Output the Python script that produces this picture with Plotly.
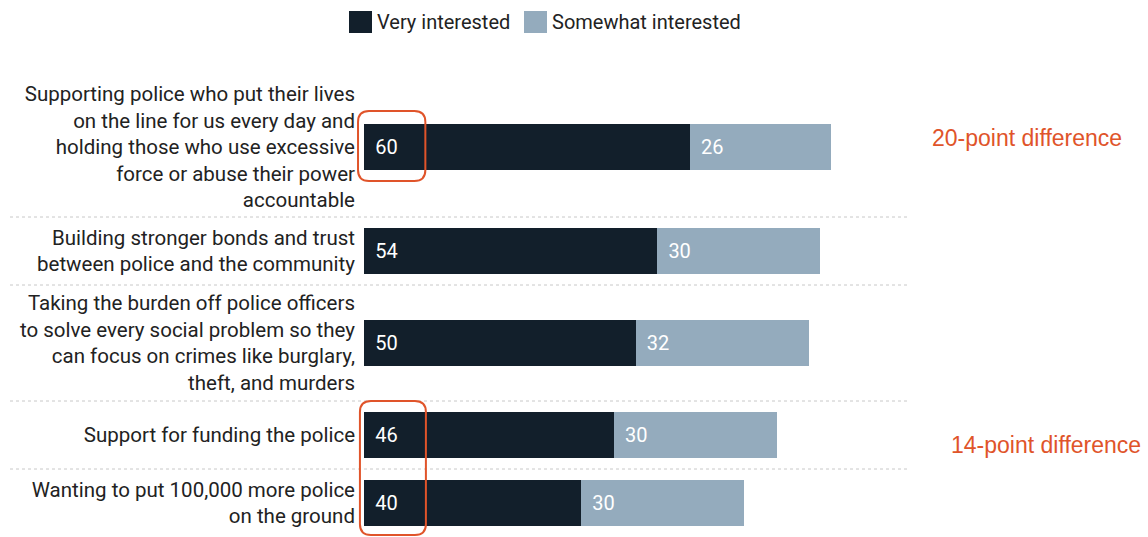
import plotly.graph_objects as go

# ---------------- data ----------------
categories = [
    "Supporting police who put their lives<br>on the line for us every day and<br>holding those who use excessive<br>force or abuse their power<br>accountable",
    "Building stronger bonds and trust<br>between police and the community",
    "Taking the burden off police officers<br>to solve every social problem so they<br>can focus on crimes like burglary,<br>theft, and murders",
    "Support for funding the police",
    "Wanting to put 100,000 more police<br>on the ground",
]
very_interested = [60, 54, 50, 46, 40]
somewhat_interested = [26, 30, 32, 30, 30]
series_names = ["Very interested", "Somewhat interested"]
callout_texts = ["20-point difference", "14-point difference"]

# ---------------- layout constants ----------------
W, H = 1148, 537
L, T = 364, 77
PX_PER_UNIT = 5.43
plot_w = W - L
plot_h = H - T
xmax = plot_w / PX_PER_UNIT

DARK = "#121f2b"
LIGHT = "#94abbd"
ORANGE = "#e0542a"
TEXT = "#222222"
FONT = "Roboto"
FS = 20
BAR_W = 46

# slot heights derived from label line counts (1 y-unit = 1 px)
line_px = 24
slots = [line_px * max(c.count("<br>") + 1, 2) + 20 for c in categories]
edges = [0]
for s in slots:
    edges.append(edges[-1] + s)
centers = [(edges[i] + edges[i + 1]) / 2 for i in range(len(slots))]
ytotal = edges[-1]


def px_x(px):
    return (px - L) / plot_w


def px_y(px):
    return 1 - (px - T) / plot_h


def data_x(v):
    return v / xmax


fig = go.Figure()
for vals, name, col in [(very_interested, series_names[0], DARK),
                        (somewhat_interested, series_names[1], LIGHT)]:
    fig.add_trace(go.Bar(
        orientation="h", y=centers, x=vals, width=BAR_W,
        name=name, marker=dict(color=col, line=dict(width=0)),
        text=vals, texttemplate="\u2009\u2009%{x}",
        textposition="inside", insidetextanchor="start",
        textfont=dict(color="white", size=FS, family=FONT),
        showlegend=False,
    ))

shapes = []
# dotted separators
for e in edges[1:-1]:
    shapes.append(dict(type="line", xref="paper", yref="y",
                       x0=px_x(10), x1=px_x(908), y0=e, y1=e,
                       line=dict(color="#c8c8c8", width=1, dash="dot")))


def rounded_box(x0, x1, y0, y1, r_px=11):
    rx = r_px / plot_w
    ry = r_px
    return (f"M {x0+rx},{y0} L {x1-rx},{y0} Q {x1},{y0} {x1},{y0+ry} "
            f"L {x1},{y1-ry} Q {x1},{y1} {x1-rx},{y1} L {x0+rx},{y1} "
            f"Q {x0},{y1} {x0},{y1-ry} L {x0},{y0+ry} Q {x0},{y0} {x0+rx},{y0} Z")


shapes.append(dict(type="path", xref="paper", yref="y",
                   path=rounded_box(data_x(-1.1), data_x(11.3),
                                    centers[0] - BAR_W / 2 - 13, centers[0] + BAR_W / 2 + 11),
                   line=dict(color=ORANGE, width=2), fillcolor="rgba(0,0,0,0)"))
shapes.append(dict(type="path", xref="paper", yref="y",
                   path=rounded_box(data_x(-0.75), data_x(11.4),
                                    centers[3] - BAR_W / 2 - 11, centers[4] + BAR_W / 2 + 9),
                   line=dict(color=ORANGE, width=2), fillcolor="rgba(0,0,0,0)"))

# manual legend squares
shapes.append(dict(type="rect", xref="paper", yref="paper",
                   x0=px_x(349), x1=px_x(372), y0=px_y(33), y1=px_y(11),
                   fillcolor=DARK, line=dict(width=0)))
shapes.append(dict(type="rect", xref="paper", yref="paper",
                   x0=px_x(524), x1=px_x(547), y0=px_y(33), y1=px_y(11),
                   fillcolor=LIGHT, line=dict(width=0)))

annotations = [
    dict(xref="paper", yref="paper", x=px_x(375), y=px_y(22), text=series_names[0],
         showarrow=False, xanchor="left", yanchor="middle",
         font=dict(size=FS, color=TEXT, family=FONT)),
    dict(xref="paper", yref="paper", x=px_x(550), y=px_y(22), text=series_names[1],
         showarrow=False, xanchor="left", yanchor="middle",
         font=dict(size=FS, color=TEXT, family=FONT)),
    dict(xref="paper", yref="y", x=px_x(1027), y=centers[0] - 9, text=callout_texts[0],
         showarrow=False, xanchor="center", yanchor="middle",
         font=dict(size=23, color=ORANGE, family="Liberation Sans, Arial")),
    dict(xref="paper", yref="y", x=px_x(1143), y=centers[3] + 10, text=callout_texts[1],
         showarrow=False, xanchor="right", yanchor="middle",
         font=dict(size=23, color=ORANGE, family="Liberation Sans, Arial")),
]

fig.update_layout(
    width=W, height=H,
    margin=dict(l=L, r=0, t=T, b=0, pad=0),
    barmode="stack",
    plot_bgcolor="white", paper_bgcolor="white",
    font=dict(family=FONT, color=TEXT),
    xaxis=dict(range=[0, xmax], visible=False, fixedrange=True),
    yaxis=dict(range=[ytotal, 0], tickvals=centers, ticktext=categories,
               showgrid=False, zeroline=False, showline=False, ticks="",
               ticklabelstandoff=8,
               tickfont=dict(size=20.5, color=TEXT, family=FONT), fixedrange=True),
    shapes=shapes,
    annotations=annotations,
    showlegend=False,
    uniformtext=dict(minsize=FS, mode="show"),
)

fig.write_html("out.html", config={"displayModeBar": False},
               post_script="document.body.style.margin='0';document.body.style.overflow='hidden';")
